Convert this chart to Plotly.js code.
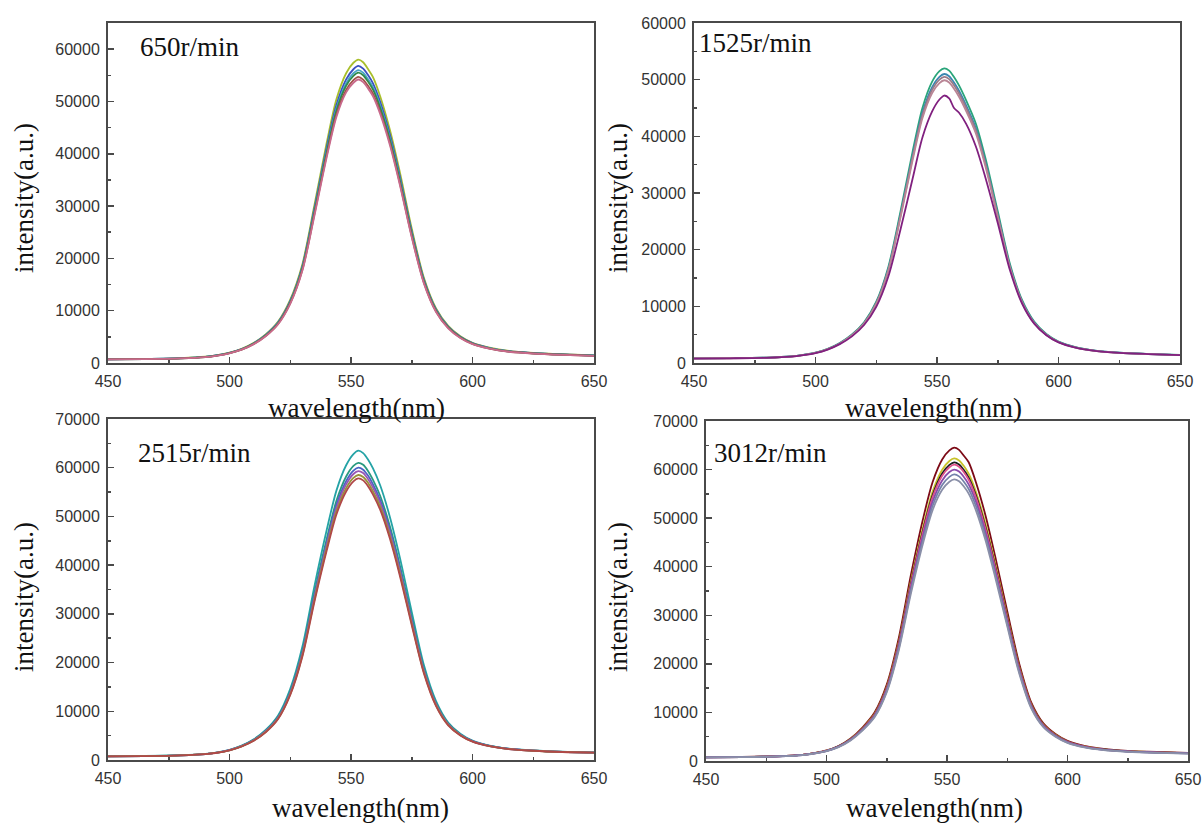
<!DOCTYPE html>
<html>
<head>
<meta charset="utf-8">
<script src="https://cdn.plot.ly/plotly-3.0.1.min.js"></script>
<style>html,body{margin:0;padding:0;background:#fff;}#chart{width:1204px;height:823px;}</style>
</head>
<body>
<div id="chart"></div>
<script>
// wavelength sample points (nm)
const wavelength = [450,465,480,490,495,500,505,510,515,520,525,530,535,540,544,548,551,553,555,557,559,562,566,570,575,580,585,590,595,600,607,615,625,637,650];

// panel labels
const panelLabels = ["650r/min", "1525r/min", "2515r/min", "3012r/min"];

// ---- 650 r/min ----
const p1_yellowgreen = [730,790,940,1200,1510,1980,2710,3860,5530,7940,12120,18900,30300,42100,50400,55400,57400,58000,57500,56200,54700,51000,44600,36700,25700,16300,10450,7100,5120,3870,2930,2300,1930,1670,1460];
const p1_blue        = [715,775,920,1175,1480,1945,2660,3785,5420,7775,11870,18520,29670,41230,49310,54220,56160,56800,56270,55040,53500,49920,43680,35910,25170,15960,10230,6960,5010,3785,2865,2250,1890,1635,1430];
const p1_cyan        = [705,765,905,1160,1465,1915,2625,3735,5350,7670,11700,18260,29260,40660,48630,53480,55390,56000,55500,54280,52770,49240,43080,35420,24820,15740,10090,6860,4945,3735,2825,2220,1865,1615,1410];
const p1_green       = [700,760,900,1150,1450,1900,2600,3700,5300,7600,11600,18100,29000,40300,48200,53000,54900,55500,55000,53800,52300,48800,42700,35100,24600,15600,10000,6800,4900,3700,2800,2200,1850,1600,1400];
const p1_brown       = [690,750,885,1135,1430,1870,2560,3645,5220,7490,11430,17830,28570,39700,47480,52210,54080,54700,54180,52990,51520,48070,42060,34570,24230,15370,9850,6700,4830,3645,2760,2170,1820,1575,1380];
const p1_pink        = [685,742,878,1122,1415,1855,2540,3610,5170,7420,11320,17670,28300,39330,47040,51730,53580,54200,53700,52500,51040,47630,41680,34260,24010,15230,9760,6640,4780,3610,2735,2150,1805,1560,1365];

// ---- 1525 r/min ----
const p2_green  = [810,850,955,1170,1450,1845,2510,3540,5030,7200,10810,17000,26780,37390,45010,49650,51500,52000,51600,50470,49030,46350,42230,36050,26780,17510,11120,7300,5120,3780,2800,2180,1820,1595,1410];
const p2_teal   = [805,845,948,1160,1435,1820,2475,3485,4950,7070,10600,16670,26260,36660,44140,48680,50500,51000,50600,49490,48080,45450,41410,35350,26260,17170,10910,7170,5040,3735,2775,2165,1810,1587,1405];
const p2_gray   = [800,840,940,1150,1420,1800,2450,3450,4900,7000,10500,16500,26000,36300,43700,48200,50000,50500,50100,49000,47600,45000,41000,35000,26000,17000,10800,7100,5000,3700,2750,2150,1800,1580,1400];
const p2_pink   = [795,835,932,1140,1405,1780,2420,3410,4840,6920,10370,16300,25690,35860,43180,47620,49400,49900,49500,48410,47030,44460,40510,34580,25690,16800,10670,7020,4940,3660,2720,2135,1790,1573,1395];
const p2_purple = [780,825,920,1120,1380,1740,2370,3330,4700,6700,9900,15300,23600,32600,39800,44400,46500,47200,46700,45000,44200,42200,38200,32600,24700,16400,10500,6950,4900,3650,2720,2130,1790,1570,1390];

// ---- 2515 r/min ----
const p3_teal    = [780,830,990,1250,1570,2100,2960,4260,6220,9150,14600,23300,35800,47200,55300,60500,62800,63500,63000,61700,59900,56400,49900,41800,30400,19500,12100,7700,5400,3980,2960,2320,1950,1690,1540];
const p3_tealgrn = [765,815,970,1225,1535,2050,2890,4150,6050,8870,14080,22420,34420,45370,53190,58200,60390,61000,60600,59350,57570,54240,47980,40160,29200,18770,11680,7480,5260,3900,2900,2280,1925,1670,1520];
const p3_blue    = [760,810,962,1215,1520,2030,2860,4100,5970,8740,13860,22060,33860,44630,52330,57250,59400,60000,59600,58380,56640,53350,47200,39500,28730,18470,11490,7370,5190,3860,2880,2270,1915,1660,1510];
const p3_violet  = [755,805,956,1208,1510,2015,2835,4060,5900,8630,13690,21800,33460,44110,51710,56580,58710,59300,58910,57700,55970,52730,46640,39040,28390,18250,11360,7290,5140,3830,2860,2260,1910,1655,1505];
const p3_olive   = [750,800,950,1200,1500,2000,2800,4000,5800,8500,13500,21500,33000,43500,51000,55800,57900,58500,58100,56900,55200,52000,46000,38500,28000,18000,11200,7200,5100,3800,2850,2250,1900,1650,1500];
const p3_red     = [745,795,945,1192,1490,1980,2770,3955,5730,8400,13340,21240,32600,42980,50390,55130,57210,57800,57400,56220,54540,51380,45450,38040,27660,17780,11070,7120,5050,3770,2830,2240,1895,1645,1495];

// ---- 3012 r/min ----
const p4_darkred = [790,845,1005,1280,1640,2170,3100,4640,6950,10030,15730,25350,38250,49730,57380,62080,63940,64500,64050,62850,61500,57400,50500,42100,30820,20000,12020,7760,5570,4150,3110,2490,2090,1850,1680];
const p4_yellow  = [780,830,985,1255,1610,2125,3030,4530,6760,9720,15210,24500,36960,48050,55440,59980,61780,62300,61880,60720,59140,55440,48790,40660,29780,19320,11620,7500,5390,4010,3010,2410,2030,1795,1635];
const p4_black   = [775,825,980,1250,1600,2110,3010,4480,6670,9590,15000,24170,36470,47410,54710,59190,60960,61500,61060,59920,58350,54710,48140,40120,29380,19070,11460,7400,5310,3960,2970,2380,2000,1770,1615];
const p4_pink    = [772,822,975,1245,1595,2100,2995,4450,6620,9510,14890,23990,36190,47050,54290,58730,60490,61000,60590,59460,57900,54290,47770,39810,29160,18920,11370,7340,5270,3930,2950,2360,1985,1760,1605];
const p4_purple  = [766,816,968,1232,1578,2080,2950,4370,6510,9360,14650,23590,35600,46270,53390,57770,59490,60000,59600,58480,56950,53390,46990,39150,28680,18610,11190,7220,5190,3870,2900,2320,1955,1730,1578];
const p4_grayblu = [760,810,960,1220,1560,2050,2900,4300,6400,9200,14400,23200,35000,45500,52500,56800,58500,59000,58600,57500,56000,52500,46200,38500,28200,18300,11000,7100,5100,3800,2850,2280,1920,1700,1550];
const p4_slate   = [755,805,952,1210,1545,2020,2850,4230,6290,9040,14160,22810,34400,44730,51610,55830,57510,58000,57600,56520,55050,51610,45410,37850,27720,17990,10810,6980,5015,3735,2800,2240,1890,1675,1530];

const panels = [
  {series:[[p1_yellowgreen,'#a9bf2c'],[p1_blue,'#3a4fc0'],[p1_cyan,'#4aa6c8'],[p1_green,'#2f8a4a'],[p1_brown,'#a0524a'],[p1_pink,'#c86a8c']], yr:[0,65000]},
  {series:[[p2_green,'#2aa57a'],[p2_teal,'#3a86b0'],[p2_gray,'#9a7a88'],[p2_pink,'#b98595'],[p2_purple,'#80207f']], yr:[0,60000]},
  {series:[[p3_teal,'#25a3a6'],[p3_tealgrn,'#2a9a80'],[p3_blue,'#4a62c4'],[p3_violet,'#9a56b4'],[p3_olive,'#98923a'],[p3_red,'#b04848']], yr:[0,70000]},
  {series:[[p4_darkred,'#7c0a16'],[p4_yellow,'#c8c22a'],[p4_black,'#1e1e1e'],[p4_pink,'#e0508a'],[p4_purple,'#8a4aaa'],[p4_grayblu,'#7482aa'],[p4_slate,'#8a8fa8']], yr:[0,70000]}
];

const W = 1204, H = 823;
const boxes = [
  {l:108, r:594, t:23, b:363},
  {l:694, r:1180, t:23, b:363},
  {l:108, r:594, t:419, b:760},
  {l:706, r:1188, t:421, b:761}
];

const traces = [];
panels.forEach((p, i) => {
  const sfx = i === 0 ? '' : String(i + 1);
  p.series.forEach(([vals, col]) => {
    traces.push({
      x: wavelength, y: vals, type: 'scatter', mode: 'lines',
      line: {color: col, width: 1.8, shape: 'spline', smoothing: 0.8},
      xaxis: 'x' + sfx, yaxis: 'y' + sfx, showlegend: false, hoverinfo: 'skip'
    });
  });
});

const layout = {
  width: W, height: H, autosize: false,
  margin: {l: 0, r: 0, t: 0, b: 0},
  paper_bgcolor: '#fff', plot_bgcolor: '#fff',
  showlegend: false,
  annotations: []
};

const tickFont = {family: 'Liberation Sans, Arial, sans-serif', size: 16, color: '#333'};
const serif = 'Liberation Serif, Times New Roman, serif';

boxes.forEach((b, i) => {
  const sfx = i === 0 ? '' : String(i + 1);
  const common = {
    showline: true, mirror: true, linecolor: '#4a4a4a', linewidth: 2,
    ticks: 'inside', ticklen: 6, tickwidth: 1.5, tickcolor: '#4a4a4a',
    showgrid: false, zeroline: false, tickfont: tickFont
  };
  layout['xaxis' + sfx] = Object.assign({}, common, {
    domain: [b.l / W, b.r / W], range: [450, 650], tick0: 450, dtick: 50,
    anchor: 'y' + sfx, ticklabelstandoff: 3,
    minor: {dtick: 25, ticks: 'inside', ticklen: 3, tickwidth: 1.5, tickcolor: '#4a4a4a', showgrid: false}
  });
  layout['yaxis' + sfx] = Object.assign({}, common, {
    domain: [1 - b.b / H, 1 - b.t / H], range: panels[i].yr, tick0: 0, dtick: 10000,
    tickformat: 'd', anchor: 'x' + sfx, ticklabelstandoff: 3,
    minor: {dtick: 5000, ticks: 'inside', ticklen: 3, tickwidth: 1.5, tickcolor: '#4a4a4a', showgrid: false}
  });
});

// axis titles and panel labels (pixel positions -> paper)
const xTitlePos = [[356, 408], [933, 408], [360, 808], [934, 808]];
const yTitlePos = [[24, 198], [618, 198], [24, 597], [618, 597]];
const labelPos  = [[138, 47], [697, 43], [136, 453], [712, 453]];
for (let i = 0; i < 4; i++) {
  layout.annotations.push({
    xref: 'paper', yref: 'paper', x: xTitlePos[i][0] / W, y: 1 - xTitlePos[i][1] / H,
    xanchor: 'center', yanchor: 'middle', showarrow: false,
    text: 'wavelength(nm)', font: {family: serif, size: 27, color: '#111'}
  });
  layout.annotations.push({
    xref: 'paper', yref: 'paper', x: yTitlePos[i][0] / W, y: 1 - yTitlePos[i][1] / H,
    xanchor: 'center', yanchor: 'middle', showarrow: false, textangle: -90,
    text: 'intensity(a.u.)', font: {family: serif, size: 27, color: '#111'}
  });
  layout.annotations.push({
    xref: 'paper', yref: 'paper', x: labelPos[i][0] / W, y: 1 - labelPos[i][1] / H,
    xanchor: 'left', yanchor: 'middle', showarrow: false,
    text: panelLabels[i], font: {family: serif, size: 27, color: '#111'}
  });
}

Plotly.newPlot('chart', traces, layout, {staticPlot: true, displayModeBar: false});
</script>
</body>
</html>
